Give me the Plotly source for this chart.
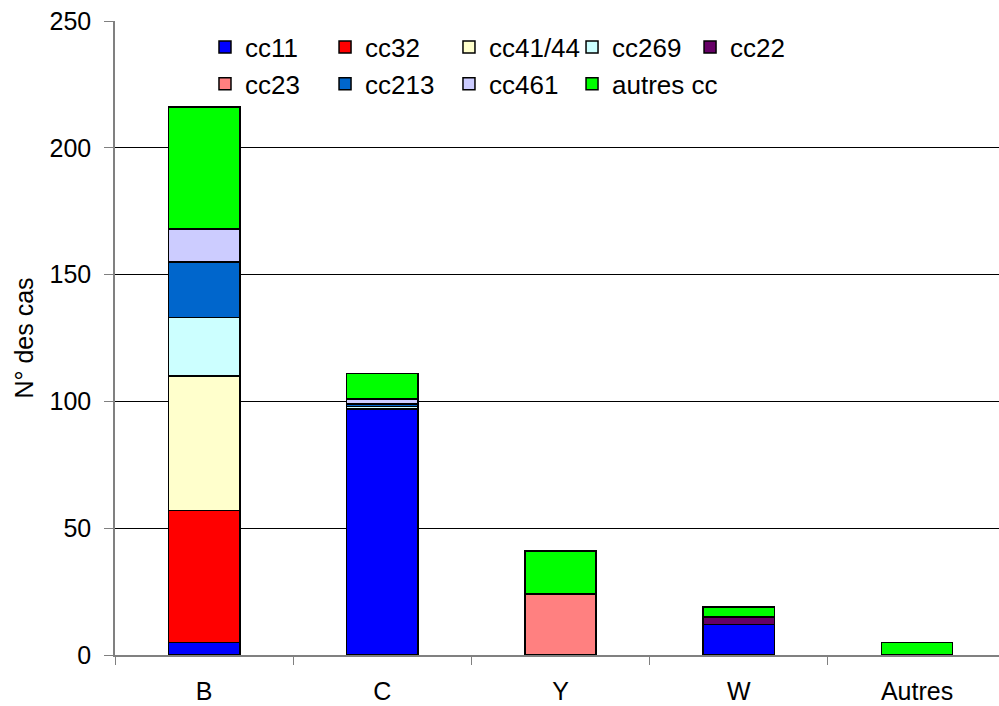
import plotly.graph_objects as go

# Serogroups on the x axis
groups = ["B", "C", "Y", "W", "Autres"]

# Clonal complexes, stacked bottom to top in this order
complexes = ["cc11", "cc32", "cc41/44", "cc269", "cc22", "cc23", "cc213", "cc461", "autres cc"]

cc11 = [5, 97, 0, 12, 0]
cc32 = [52, 0, 0, 0, 0]
cc41_44 = [53, 0, 0, 0, 0]
cc269 = [23, 1, 0, 0, 0]
cc22 = [0, 0, 0, 3, 0]
cc23 = [0, 0, 24, 0, 0]
cc213 = [22, 1, 0, 0, 0]
cc461 = [13, 2, 0, 0, 0]
autres_cc = [48, 10, 17, 4, 5]

series = [cc11, cc32, cc41_44, cc269, cc22, cc23, cc213, cc461, autres_cc]
colors = ["#0000FF", "#FF0000", "#FFFFCC", "#CCFFFF", "#660066",
          "#FF8080", "#0066CC", "#CCCCFF", "#00FF00"]

y_ticks = [0, 50, 100, 150, 200, 250]

FONT = "Liberation Sans, Arial, sans-serif"

# Legend laid out as a 5-column grid (two rows), one vertical legend per column
legend_ids = ["legend", "legend2", "legend3", "legend4", "legend5"]
column_x = [0.1018, 0.2376, 0.3778, 0.5170, 0.6505]

fig = go.Figure()
for i, (name, vals, col) in enumerate(zip(complexes, series, colors)):
    fig.add_trace(go.Bar(
        x=groups, y=vals, name=name,
        marker=dict(color=col, line=dict(color="#000000", width=1.5)),
        width=0.4,
        legend=legend_ids[i % 5],
    ))

legend_common = dict(
    orientation="v", xanchor="left", yanchor="top", traceorder="normal",
    font=dict(family=FONT, size=26, color="#000000"),
    bgcolor="rgba(0,0,0,0)",
    itemclick=False, itemdoubleclick=False, tracegroupgap=0,
)

legend_layout = {lid: dict(x=cx, y=0.996, **legend_common)
                 for lid, cx in zip(legend_ids, column_x)}

fig.update_layout(
    width=999, height=706,
    margin=dict(l=115, r=0, t=21, b=51),
    paper_bgcolor="#FFFFFF", plot_bgcolor="#FFFFFF",
    barmode="stack",
    font=dict(family=FONT, size=25, color="#000000"),
    xaxis=dict(
        range=[-0.5, 4.46],
        showline=True, linecolor="#808080", linewidth=1.5,
        ticks="outside", tickson="boundaries", ticklen=8, tickcolor="#808080",
        ticklabelstandoff=13,
        tickfont=dict(family=FONT, size=25, color="#000000"),
        showgrid=False, zeroline=False,
    ),
    yaxis=dict(
        range=[0, 250], tickvals=y_ticks,
        showline=True, linecolor="#808080", linewidth=1.5,
        ticks="outside", ticklen=9, tickcolor="#808080",
        ticklabelstandoff=8,
        tickfont=dict(family=FONT, size=25, color="#000000"),
        showgrid=True, gridcolor="#000000", gridwidth=1,
        zeroline=False,
        title=dict(text="N° des cas", font=dict(family=FONT, size=25, color="#000000"),
                   standoff=9),
    ),
    **legend_layout,
)

fig.write_html("out.html")
